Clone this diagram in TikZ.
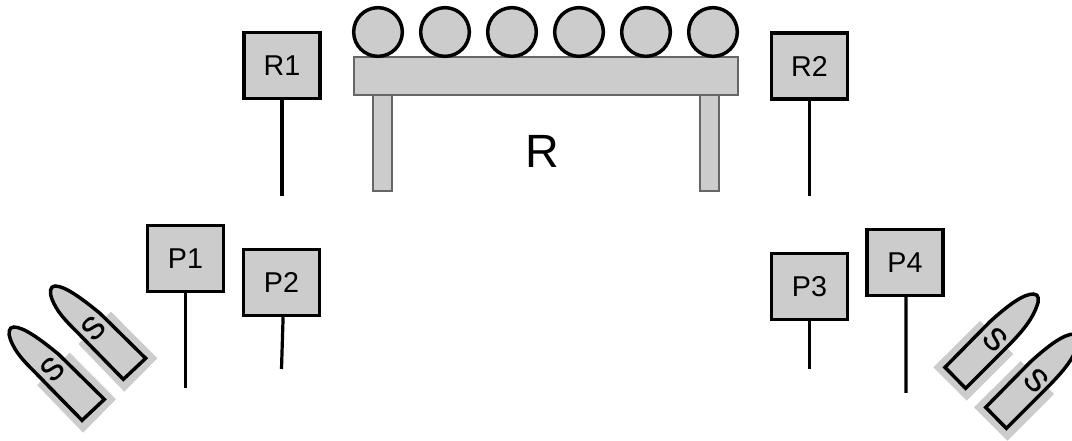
\documentclass[tikz,border=0pt]{standalone}
\usepackage{fontspec}
\setmainfont{Liberation Sans}
\newfontfamily\boatfont[FakeBold=0.6]{Liberation Sans}
\definecolor{fillg}{HTML}{CCCCCC}
\definecolor{edgeg}{HTML}{666666}
\tikzset{
  x=0.75pt,y=-0.75pt,
  box/.style={draw=black,fill=fillg,line width=2.6pt,minimum width=57pt,minimum height=49.5pt,inner sep=0pt,font=\fontsize{21.5}{25}\selectfont},
  stem/.style={draw=black,line width=2.4pt},
  roller/.style={draw=black,fill=fillg,line width=2.6pt,circle,minimum size=36.5pt,inner sep=0pt},
  bar/.style={draw=edgeg,fill=fillg,line width=0.8pt},
  shade/.style={fill=fillg,draw=none},
  hull/.style={draw=black,fill=fillg,line width=2.6pt,line join=miter},
  boatletter/.style={font=\boatfont\fontsize{23}{27}\selectfont,inner sep=0pt}
}
\newcommand{\leftboat}[2]{%
  \begin{scope}[shift={(#1,#2)},x=0.25pt,y=-0.25pt]
    \fill[shade] (333,125) -- (472,265) -- (373,365) -- (235,222) -- cycle;
    \draw[hull] (437,265) -- (300,130) .. controls (245,85) and (195,48) .. (165,48)
      .. controls (150,48) and (148,68) .. (155,85)
      .. controls (170,125) and (195,150) .. (235,190) -- (370,328) -- cycle;
  \end{scope}}
\newcommand{\rightboat}[2]{%
  \begin{scope}[shift={(#1,#2)},x=0.25pt,y=-0.25pt]
    \fill[shade] (180,123) -- (280,222) -- (140,362) -- (40,262) -- cycle;
    \draw[hull] (75,262) -- (210,125) .. controls (265,75) and (310,42) .. (340,42)
      .. controls (358,42) and (358,62) .. (350,80)
      .. controls (335,120) and (310,150) .. (272,190) -- (137,325) -- cycle;
  \end{scope}}
\begin{document}
\begin{tikzpicture}
\useasboundingbox (0,0) rectangle (1072,441);
% table
\draw[bar] (373,95) rectangle (392,191);
\draw[bar] (700,95) rectangle (719,191);
\draw[bar] (354,57) rectangle (738,95);
\foreach \n/\cx in {a/378,b/445,c/512,d/579,e/646,f/713}
  \node[roller] (roll\n) at (\cx,32) {};
\node[font=\fontsize{35}{40}\selectfont] (R) at (542,151) {R};
% boxes
\node[box] (R1) at (282,65.5) {R1};
\node[box] (R2) at (809.5,66) {R2};
\node[box] (P1) at (185.5,258.5) {P1};
\node[box] (P2) at (281.5,282.5) {P2};
\node[box] (P3) at (809.5,286.5) {P3};
\node[box] (P4) at (905,262.5) {P4};
% free ends
\coordinate (eR1) at (282,196);
\coordinate (eR2) at (809.5,196);
\coordinate (eP1) at (185.5,388);
\coordinate (eP2) at (281.5,369);
\coordinate (eP3) at (809.5,369);
\coordinate (eP4) at (906,393);
\draw[stem] (R1.south) -- (eR1);
\draw[stem] (R2.south) -- (eR2);
\draw[stem] (P1.south) -- (eP1);
\draw[stem] ([xshift=1.2pt]P2.south) -- (eP2);
\draw[stem] (P3.south) -- (eP3);
\draw[stem] ([xshift=0.8pt]P4.south) -- (eP4);
% boats left
\leftboat{0}{270}
\node[boatletter,rotate=45] (s1) at (93,328) {S};
\leftboat{-41.3}{311}
\node[boatletter,rotate=45] (s2) at (52,369) {S};
% boats right
\rightboat{920}{280}
\node[boatletter,rotate=-45] (s3) at (995,339) {S};
\rightboat{960.7}{320}
\node[boatletter,rotate=-45] (s4) at (1036,380) {S};
\end{tikzpicture}
\end{document}
